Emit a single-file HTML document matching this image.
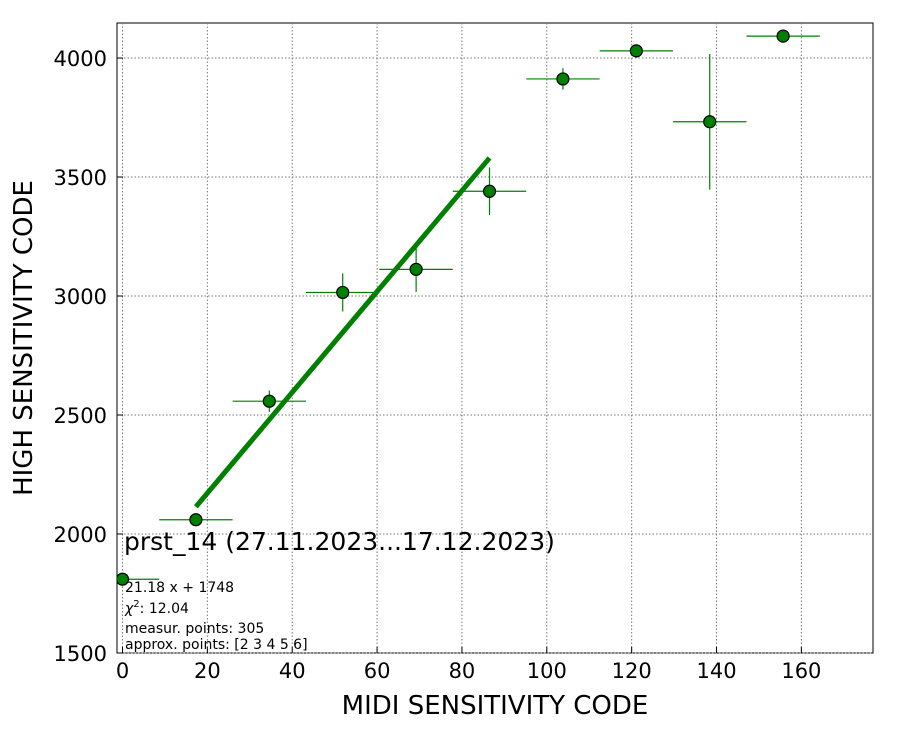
<!DOCTYPE html>
<html><head><meta charset="utf-8"><style>
body{margin:0;background:#fff;}
svg{display:block;font-family:"DejaVu Sans","Liberation Sans",sans-serif;}
</style></head><body>
<svg id="chart" width="900" height="750">
<defs><clipPath id="pc"><rect x="117" y="23" width="756" height="630"/></clipPath></defs>
<rect x="117" y="23" width="756" height="630" fill="#fff" stroke="#000"/>
<g id="grid"></g><g id="ticks"></g><g id="marks" clip-path="url(#pc)"></g>
<text x="495" y="714" font-size="26" text-anchor="middle">MIDI SENSITIVITY CODE</text>
<text transform="translate(32,338) rotate(-90)" font-size="26" text-anchor="middle">HIGH SENSITIVITY CODE</text>
<text x="124" y="550" font-size="25">prst_14 (27.11.2023...17.12.2023)</text>
<g font-size="14">
<text x="125" y="592">21.18 x + 1748</text>
<text x="125" y="613"><tspan font-style="italic">χ</tspan><tspan dy="-6" font-size="10">2</tspan><tspan dy="6">: 12.04</tspan></text>
<text x="125" y="633">measur. points: 305</text>
<text x="125" y="649">approx. points: [2 3 4 5 6]</text>
</g>
</svg>
<script>
const xs=[0,17.3,34.6,51.9,69.2,86.5,103.8,121.1,138.4,155.7];
const ys=[1810,2060,2558,3015,3112,3440,3912,4030,3732,4092];
const yerr=[5,20,45,80,95,100,45,20,285,5];
const xerr=[8.65,8.65,8.65,8.65,8.65,8.65,8.65,8.65,8.65,8.65];
const slope=21.18, intercept=1748, fitRange=[17.3,86.5];
const xTicks=[0,20,40,60,80,100,120,140,160];
const yTicks=[1500,2000,2500,3000,3500,4000];
const NS='http://www.w3.org/2000/svg';
const X=v=>122.5+v*4.243, Y=v=>653-(v-1500)*0.238;
function mk(p,t,a){const e=document.createElementNS(NS,t);for(const k in a)e.setAttribute(k,a[k]);p.appendChild(e);return e;}
const g=document.getElementById('grid'),tk=document.getElementById('ticks'),m=document.getElementById('marks');
xTicks.forEach(v=>{
 const l=mk(g,'line',{x1:X(v),x2:X(v),y1:23,y2:653,stroke:'#777','stroke-dasharray':'1.5,2','stroke-width':1});
 
 mk(tk,'line',{x1:X(v),x2:X(v),y1:653,y2:647,stroke:'#000'});
 const t=mk(tk,'text',{x:X(v),y:678,'font-size':21,'text-anchor':'middle'});t.textContent=v;
 
});
yTicks.forEach(v=>{
 const l=mk(g,'line',{x1:117,x2:873,y1:Y(v),y2:Y(v),stroke:'#777','stroke-dasharray':'1.5,2','stroke-width':1});
 
 mk(tk,'line',{x1:117,x2:123,y1:Y(v),y2:Y(v),stroke:'#000'});
 const t=mk(tk,'text',{x:107,y:Y(v)+8,'font-size':21,'text-anchor':'end'});t.textContent=v;
 
});
const fit=mk(m,'line',{x1:X(fitRange[0]),y1:Y(slope*fitRange[0]+intercept),x2:X(fitRange[1]),y2:Y(slope*fitRange[1]+intercept),stroke:'#008000','stroke-width':5});

xs.forEach((x,i)=>{
 const eg=mk(m,'g',{});
 
 mk(eg,'line',{x1:X(x-xerr[i]),x2:X(x+xerr[i]),y1:Y(ys[i]),y2:Y(ys[i]),stroke:'#008000','stroke-width':1.2});
 mk(eg,'line',{x1:X(x),x2:X(x),y1:Y(ys[i]-yerr[i]),y2:Y(ys[i]+yerr[i]),stroke:'#008000','stroke-width':1.2});
 const c=mk(m,'circle',{cx:X(x),cy:Y(ys[i]),r:6,fill:'#008000',stroke:'#000','stroke-width':1.2});
 
});
</script>
</body></html>
